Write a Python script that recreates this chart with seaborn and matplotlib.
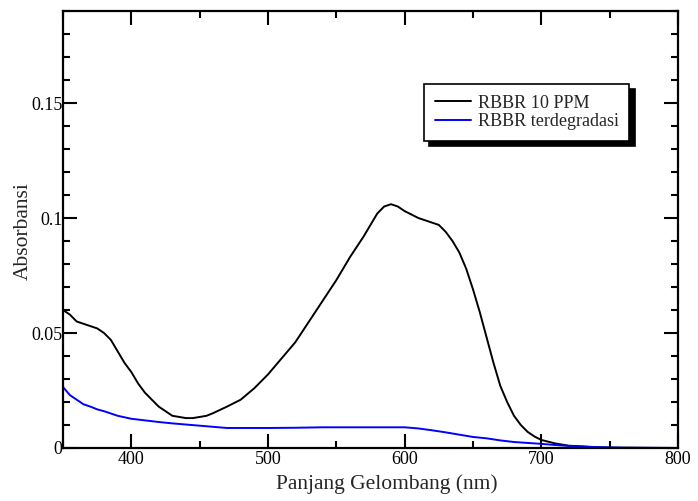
import matplotlib
matplotlib.use("Agg")
import matplotlib.pyplot as plt
from matplotlib.ticker import MultipleLocator, FuncFormatter
import seaborn as sns
import pandas as pd

# --- data ---
wl_rbbr = [350, 355, 360, 365, 370, 375, 380, 385, 390, 395, 400, 405, 410, 415,
           420, 425, 430, 435, 440, 445, 450, 455, 460, 470, 480, 490, 500, 510,
           520, 530, 540, 550, 560, 570, 580, 585, 590, 595, 600, 610, 620, 625,
           630, 635, 640, 645, 650, 655, 660, 665, 670, 675, 680, 685, 690, 695,
           700, 710, 720, 730, 740, 750, 800]
abs_rbbr = [0.060, 0.058, 0.055, 0.054, 0.053, 0.052, 0.050, 0.047, 0.042, 0.037,
            0.033, 0.028, 0.024, 0.021, 0.018, 0.016, 0.014, 0.0135, 0.013, 0.013,
            0.0135, 0.014, 0.0152, 0.018, 0.021, 0.026, 0.032, 0.039, 0.046, 0.055,
            0.064, 0.073, 0.083, 0.092, 0.102, 0.105, 0.106, 0.105, 0.103, 0.100,
            0.098, 0.097, 0.094, 0.090, 0.085, 0.078, 0.069, 0.059, 0.048, 0.037,
            0.027, 0.020, 0.014, 0.010, 0.007, 0.005, 0.0035, 0.002, 0.001, 0.0007,
            0.0003, 0.0002, 0.0]

wl_deg = [350, 355, 360, 365, 370, 375, 380, 390, 400, 410, 420, 430, 440, 450,
          460, 470, 500, 520, 540, 560, 580, 600, 610, 620, 630, 640, 650, 660,
          670, 680, 690, 700, 710, 720, 730, 740, 750, 760, 800]
abs_deg = [0.0265, 0.023, 0.021, 0.019, 0.018, 0.0168, 0.016, 0.014, 0.0127, 0.012,
           0.0113, 0.0107, 0.0102, 0.0097, 0.0092, 0.0087, 0.0087, 0.0088, 0.009,
           0.009, 0.009, 0.009, 0.0085, 0.0077, 0.0068, 0.0058, 0.0048, 0.0042,
           0.0033, 0.0026, 0.0022, 0.0018, 0.0013, 0.0009, 0.0006, 0.0004, 0.0002,
           0.0001, 0.0]

labels = ["RBBR 10 PPM", "RBBR terdegradasi"]
colors = ["black", "blue"]

df = pd.concat([
    pd.DataFrame({"wl": wl_rbbr, "abs": abs_rbbr, "series": labels[0]}),
    pd.DataFrame({"wl": wl_deg, "abs": abs_deg, "series": labels[1]}),
])

sns.set_style("ticks")
plt.rcParams["font.family"] = ["Liberation Serif", "DejaVu Serif"]

fig = plt.figure(figsize=(6.98, 5.01), dpi=100)
ax = fig.add_axes([0.0903, 0.1058, 0.8810, 0.8722])

sns.lineplot(data=df, x="wl", y="abs", hue="series", palette=colors,
             linewidth=1.4, ax=ax, sort=False, estimator=None)

ax.set_xlim(350, 800)
ax.set_ylim(0, 0.19)
ax.xaxis.set_major_locator(MultipleLocator(100))
ax.xaxis.set_minor_locator(MultipleLocator(50))
ax.yaxis.set_major_locator(MultipleLocator(0.05))
ax.yaxis.set_minor_locator(MultipleLocator(0.01))
ax.yaxis.set_major_formatter(FuncFormatter(lambda v, p: f"{v:g}"))

ax.tick_params(which="both", direction="in", top=True, right=True,
               labelsize=13, colors="black", width=1.5)
ax.tick_params(which="major", length=10)
ax.tick_params(which="minor", length=5)
ax.tick_params(axis="x", which="major", pad=2)
ax.tick_params(axis="y", which="major", pad=0.5)
for s in ax.spines.values():
    s.set_linewidth(1.6)
    s.set_color("black")

ax.set_xlabel("Panjang Gelombang (nm)", fontsize=15.5)
ax.set_ylabel("Absorbansi", fontsize=15.5)
ax.xaxis.set_label_coords(0.527, -0.06)
ax.yaxis.set_label_coords(-0.049, 0.497)

leg = ax.legend(loc="upper left", bbox_to_anchor=(0.587, 0.833), borderaxespad=0,
                fontsize=13.1, frameon=True, fancybox=False, edgecolor="black",
                framealpha=1, handlelength=2.0, handletextpad=0.38,
                labelspacing=0.08, borderpad=0.58,
                shadow={"color": "black", "alpha": 1, "ox": 3.8, "oy": -3.8})
leg.get_frame().set_linewidth(1.2)
leg.set_title(None)

fig.savefig("out.png", dpi=100)
